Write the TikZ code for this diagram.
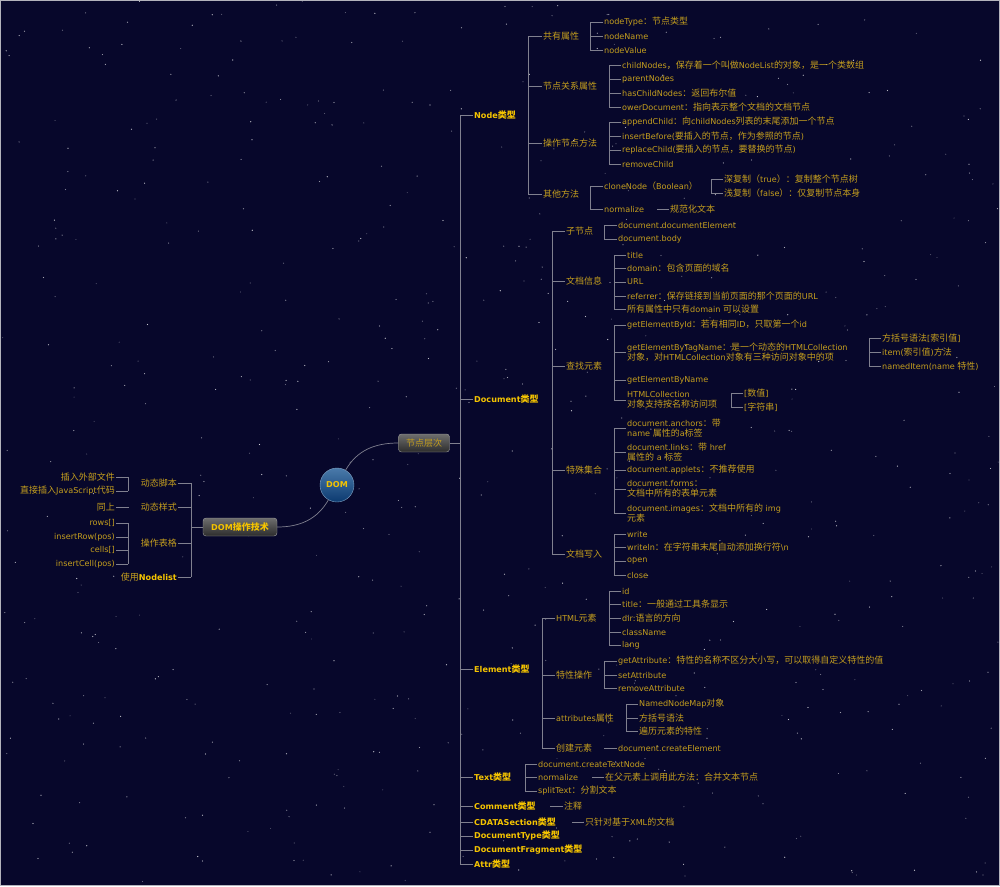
\documentclass[tikz,border=0pt]{standalone}
\usepackage{fontspec}
\setmainfont{DejaVu Sans}[Scale=0.9]
\newfontfamily\latfont{DejaVu Sans}[Scale=0.9]
\newfontfamily\cjkfont{Noto Sans CJK SC}

% switch to the CJK font around Chinese characters
\XeTeXinterchartokenstate=1
\chardef\cjkclass=10
\newcount\zhc
\zhc="4E00 \loop \XeTeXcharclass\zhc=\cjkclass \advance\zhc 1 \ifnum\zhc<"A000 \repeat
\zhc="3000 \loop \XeTeXcharclass\zhc=\cjkclass \advance\zhc 1 \ifnum\zhc<"3040 \repeat
\zhc="FF00 \loop \XeTeXcharclass\zhc=\cjkclass \advance\zhc 1 \ifnum\zhc<"FFF0 \repeat
\XeTeXinterchartoks 0 \cjkclass = {\cjkfont}
\XeTeXinterchartoks 1 \cjkclass = {\cjkfont}
\XeTeXinterchartoks 2 \cjkclass = {\cjkfont}
\XeTeXinterchartoks 3 \cjkclass = {\cjkfont}
\XeTeXinterchartoks 4095 \cjkclass = {\cjkfont}
\XeTeXinterchartoks \cjkclass 0 = {\latfont}
\XeTeXinterchartoks \cjkclass 1 = {\latfont}
\XeTeXinterchartoks \cjkclass 2 = {\latfont}
\XeTeXinterchartoks \cjkclass 3 = {\latfont}
\XeTeXinterchartoks \cjkclass 4095 = {\latfont}

\definecolor{night}{HTML}{07072B}
\definecolor{gold}{HTML}{C49E1E}
\definecolor{bright}{HTML}{F5C400}
\definecolor{wire}{HTML}{80808F}
\definecolor{boxtop}{HTML}{6E6E6E}
\definecolor{boxbot}{HTML}{2C2C2C}
\definecolor{edge}{HTML}{A0A0A0}
\definecolor{orbtop}{HTML}{4A7AAA}
\definecolor{orbbot}{HTML}{0C3A70}

\newcommand\mapfont{\fontsize{9}{10}\selectfont}
% spine and ticks: spine x, first child, last child, children
\newcommand\fan[4]{%
  \draw[conn] (#1 |- #2.west) -- (#1 |- #3.west);
  \foreach \c in {#4}{\draw[conn] (#1 |- \c.west) -- (\c.west);}}
\newcommand\lfan[4]{%
  \draw[conn] (#1 |- #2.east) -- (#1 |- #3.east);
  \foreach \c in {#4}{\draw[conn] (#1 |- \c.east) -- (\c.east);}}

\begin{document}
\begin{tikzpicture}[x=1pt, y=-1pt,
  every node/.style={inner sep=1pt, font=\mapfont},
  leaf/.style={anchor=west, text=gold, align=left},
  rleaf/.style={anchor=east, text=gold, align=right},
  kind/.style={anchor=west, text=bright, font=\mapfont\bfseries},
  conn/.style={draw=wire, line width=0.7pt},
  topic/.style={draw=edge, rounded corners=3pt, top color=boxtop, bottom color=boxbot,
    minimum height=18pt, inner xsep=5pt, text=bright, font=\mapfont\bfseries}
]

% Background
\fill[night] (0,0) rectangle (1000,886);
\useasboundingbox (0,0) rectangle (1000,886);
\pgfmathsetseed{42}
\foreach \i in {1,...,600}{
  \pgfmathsetmacro\sx{rnd*1000}
  \pgfmathsetmacro\sy{rnd*886}
  \pgfmathsetmacro\so{0.25+0.6*rnd}
  \fill[white, opacity=\so] (\sx,\sy) circle (0.6pt);
}
\draw[wire!60, line width=1pt] (0.5,0.5) rectangle (999.5,885.5);

% Centre
\node[circle, minimum size=34pt, inner sep=0pt, top color=orbtop, bottom color=orbbot,
  draw=orbtop!70!white, text=bright, font=\mapfont\bfseries] (dom) at (337,485) {DOM};
\node[topic, text=gold, font=\mapfont, minimum width=51pt] (hier) at (424,443) {节点层次};
\node[topic, minimum width=74pt] (tech) at (240,527) {DOM操作技术};
\draw[conn] (dom.60) to[out=60, in=180] (hier.west);
\draw[conn] (dom.240) to[out=240, in=0] (tech.east);

% Node types
\coordinate (trunk) at (460,443);
\draw[conn] (hier.east) -- (trunk);
\node[kind] (nNode) at (473,115) {Node类型};
\node[kind] (nDoc) at (473,399) {Document类型};
\node[kind] (nElem) at (473,669) {Element类型};
\node[kind] (nText) at (473,777) {Text类型};
\node[kind] (nComm) at (473,806) {Comment类型};
\node[kind] (nCdata) at (473,822) {CDATASection类型};
\node[kind] (nDtype) at (473,836) {DocumentType类型};
\node[kind] (nDfrag) at (473,850) {DocumentFragment类型};
\node[kind] (nAttr) at (473,864) {Attr类型};
\fan{trunk}{nNode}{nAttr}{nNode,nDoc,nElem,nText,nComm,nCdata,nDtype,nDfrag,nAttr}

% Node
\coordinate (sNode) at (528,0);
\node[leaf] (nShared) at (542,36) {共有属性};
\node[leaf] (nRel) at (542,86) {节点关系属性};
\node[leaf] (nOps) at (542,143) {操作节点方法};
\node[leaf] (nOther) at (542,194) {其他方法};
\fan{sNode}{nShared}{nOther}{nShared,nRel,nOps,nOther}

\coordinate (sShared) at (590,0);
\node[leaf] (nType) at (603,22) {nodeType：节点类型};
\node[leaf] (nName) at (603,36) {nodeName};
\node[leaf] (nValue) at (603,50) {nodeValue};
\fan{sShared}{nType}{nValue}{nType,nName,nValue}

\coordinate (sRel) at (609,0);
\node[leaf] (nChild) at (621,65) {childNodes，保存着一个叫做NodeList的对象，是一个类数组};
\node[leaf] (nParent) at (621,79) {parentNodes};
\node[leaf] (nHas) at (621,93) {hasChildNodes：返回布尔值};
\node[leaf] (nOwner) at (621,107) {owerDocument：指向表示整个文档的文档节点};
\fan{sRel}{nChild}{nOwner}{nChild,nParent,nHas,nOwner}

\coordinate (sOps) at (609,0);
\node[leaf] (nAppend) at (621,122) {appendChild：向childNodes列表的末尾添加一个节点};
\node[leaf] (nInsert) at (621,136) {insertBefore(要插入的节点，作为参照的节点)};
\node[leaf] (nReplace) at (621,150) {replaceChild(要插入的节点，要替换的节点)};
\node[leaf] (nRemove) at (621,164) {removeChild};
\fan{sOps}{nAppend}{nRemove}{nAppend,nInsert,nReplace,nRemove}

\coordinate (sOther) at (590,0);
\node[leaf] (nClone) at (603,186) {cloneNode（Boolean）};
\node[leaf] (nNorm) at (603,209) {normalize};
\fan{sOther}{nClone}{nNorm}{nClone,nNorm}

\coordinate (sClone) at (711,0);
\node[leaf] (nDeep) at (723,179) {深复制（true）：复制整个节点树};
\node[leaf] (nShallow) at (723,193) {浅复制（false）：仅复制节点本身};
\fan{sClone}{nDeep}{nShallow}{nDeep,nShallow}

\coordinate (sNorm) at (657,0);
\node[leaf] (nNormTxt) at (669,209) {规范化文本};
\fan{sNorm}{nNormTxt}{nNormTxt}{nNormTxt}

% Document
\coordinate (sDoc) at (552,0);
\node[leaf] (nSub) at (565,231) {子节点};
\node[leaf] (nInfo) at (565,281) {文档信息};
\node[leaf] (nFind) at (565,366) {查找元素};
\node[leaf] (nColl) at (565,470) {特殊集合};
\node[leaf] (nWrite) at (565,554) {文档写入};
\fan{sDoc}{nSub}{nWrite}{nSub,nInfo,nFind,nColl,nWrite}

\coordinate (sSub) at (604,0);
\node[leaf] (nDocEl) at (617,225) {document.documentElement};
\node[leaf] (nBody) at (617,239) {document.body};
\fan{sSub}{nDocEl}{nBody}{nDocEl,nBody}

\coordinate (sInfo) at (614,0);
\node[leaf] (nTitle) at (626,255) {title};
\node[leaf] (nDomain) at (626,268) {domain：包含页面的域名};
\node[leaf] (nUrl) at (626,282) {URL};
\node[leaf] (nRef) at (626,296) {referrer：保存链接到当前页面的那个页面的URL};
\node[leaf] (nOnly) at (626,309) {所有属性中只有domain 可以设置};
\fan{sInfo}{nTitle}{nOnly}{nTitle,nDomain,nUrl,nRef,nOnly}

\coordinate (sFind) at (614,0);
\node[leaf] (nById) at (626,325) {getElementById：若有相同ID，只取第一个id};
\node[leaf] (nByTag) at (626,352) {getElementByTagName：是一个动态的HTMLCollection\\对象，对HTMLCollection对象有三种访问对象中的项};
\node[leaf] (nByName) at (626,380) {getElementByName};
\node[leaf] (nHtmlColl) at (626,400) {HTMLCollection\\对象支持按名称访问项};
\fan{sFind}{nById}{nHtmlColl}{nById,nByTag,nByName,nHtmlColl}

\coordinate (sByTag) at (869,0);
\node[leaf] (nBracket) at (881,338) {方括号语法[索引值]};
\node[leaf] (nItem) at (881,352) {item(索引值)方法};
\node[leaf] (nNamed) at (881,366) {namedItem(name 特性)};
\fan{sByTag}{nBracket}{nNamed}{nBracket,nItem,nNamed}

\coordinate (sHtmlColl) at (731,0);
\node[leaf] (nNum) at (743,393) {[数值]};
\node[leaf] (nStr) at (743,407) {[字符串]};
\fan{sHtmlColl}{nNum}{nStr}{nNum,nStr}

\coordinate (sColl) at (614,0);
\node[leaf] (nAnchors) at (626,428) {document.anchors：带\\name 属性的a标签};
\node[leaf] (nLinks) at (626,452) {document.links：带 href\\属性的 a 标签};
\node[leaf] (nApplets) at (626,470) {document.applets：不推荐使用};
\node[leaf] (nForms) at (626,489) {document.forms：\\文档中所有的表单元素};
\node[leaf] (nImages) at (626,513) {document.images：文档中所有的 img\\元素};
\fan{sColl}{nAnchors}{nImages}{nAnchors,nLinks,nApplets,nForms,nImages}

\coordinate (sWrite) at (614,0);
\node[leaf] (nWr) at (626,534) {write};
\node[leaf] (nWrln) at (626,547) {writeln：在字符串末尾自动添加换行符\textbackslash n};
\node[leaf] (nOpen) at (626,561) {open};
\node[leaf] (nClose) at (626,575) {close};
\fan{sWrite}{nWr}{nClose}{nWr,nWrln,nOpen,nClose}

% Element
\coordinate (sElem) at (542,0);
\node[leaf] (nHtmlEl) at (555,618) {HTML元素};
\node[leaf] (nAttrOps) at (555,675) {特性操作};
\node[leaf] (nAttrs) at (555,718) {attributes属性};
\node[leaf] (nCreate) at (555,748) {创建元素};
\fan{sElem}{nHtmlEl}{nCreate}{nHtmlEl,nAttrOps,nAttrs,nCreate}

\coordinate (sHtmlEl) at (609,0);
\node[leaf] (nId) at (621,591) {id};
\node[leaf] (nElTitle) at (621,604) {title：一般通过工具条显示};
\node[leaf] (nDir) at (621,618) {dir:语言的方向};
\node[leaf] (nClass) at (621,632) {className};
\node[leaf] (nLang) at (621,645) {lang};
\fan{sHtmlEl}{nId}{nLang}{nId,nElTitle,nDir,nClass,nLang}

\coordinate (sAttrOps) at (604,0);
\node[leaf] (nGet) at (617,661) {getAttribute：特性的名称不区分大小写，可以取得自定义特性的值};
\node[leaf] (nSet) at (617,675) {setAttribute};
\node[leaf] (nRemAttr) at (617,688) {removeAttribute};
\fan{sAttrOps}{nGet}{nRemAttr}{nGet,nSet,nRemAttr}

\coordinate (sAttrs) at (626,0);
\node[leaf] (nMap) at (638,704) {NamedNodeMap对象};
\node[leaf] (nSquare) at (638,718) {方括号语法};
\node[leaf] (nLoop) at (638,731) {遍历元素的特性};
\fan{sAttrs}{nMap}{nLoop}{nMap,nSquare,nLoop}

\coordinate (sCreate) at (604,0);
\node[leaf] (nCreateEl) at (617,748) {document.createElement};
\fan{sCreate}{nCreateEl}{nCreateEl}{nCreateEl}

% Text, Comment, CDATASection
\coordinate (sText) at (525,0);
\node[leaf] (nTextNode) at (537,764) {document.createTextNode};
\node[leaf] (nTNorm) at (537,777) {normalize};
\node[leaf] (nSplit) at (537,791) {splitText：分割文本};
\fan{sText}{nTextNode}{nSplit}{nTextNode,nTNorm,nSplit}

\coordinate (sTNorm) at (592,0);
\node[leaf] (nMerge) at (604,777) {在父元素上调用此方法：合并文本节点};
\fan{sTNorm}{nMerge}{nMerge}{nMerge}

\coordinate (sComm) at (550,0);
\node[leaf] (nNote) at (563,806) {注释};
\fan{sComm}{nNote}{nNote}{nNote}

\coordinate (sCdata) at (572,0);
\node[leaf] (nXml) at (584,822) {只针对基于XML的文档};
\fan{sCdata}{nXml}{nXml}{nXml}

% DOM techniques
\coordinate (sTech) at (191,0);
\draw[conn] (tech.west) -- (sTech |- tech.west);
\node[rleaf] (nScript) at (178,483) {动态脚本};
\node[rleaf] (nStyle) at (178,507) {动态样式};
\node[rleaf] (nTable) at (178,543) {操作表格};
\node[rleaf] (nList) at (178,577) {使用{\latfont\bfseries\color{bright}Nodelist}};
\lfan{sTech}{nScript}{nList}{nScript,nStyle,nTable,nList}

\coordinate (sScript) at (128,0);
\node[rleaf] (nExt) at (116,477) {插入外部文件};
\node[rleaf] (nInline) at (116,491) {直接插入JavaScript代码};
\lfan{sScript}{nExt}{nInline}{nExt,nInline}

\coordinate (sStyle) at (129,0);
\node[rleaf] (nSame) at (116,507) {同上};
\lfan{sStyle}{nSame}{nSame}{nSame}

\coordinate (sTable) at (128,0);
\node[rleaf] (nRows) at (116,523) {rows[]};
\node[rleaf] (nInsRow) at (116,537) {insertRow(pos)};
\node[rleaf] (nCells) at (116,550) {cells[]};
\node[rleaf] (nInsCell) at (116,564) {insertCell(pos)};
\lfan{sTable}{nRows}{nInsCell}{nRows,nInsRow,nCells,nInsCell}

\end{tikzpicture}
\end{document}
